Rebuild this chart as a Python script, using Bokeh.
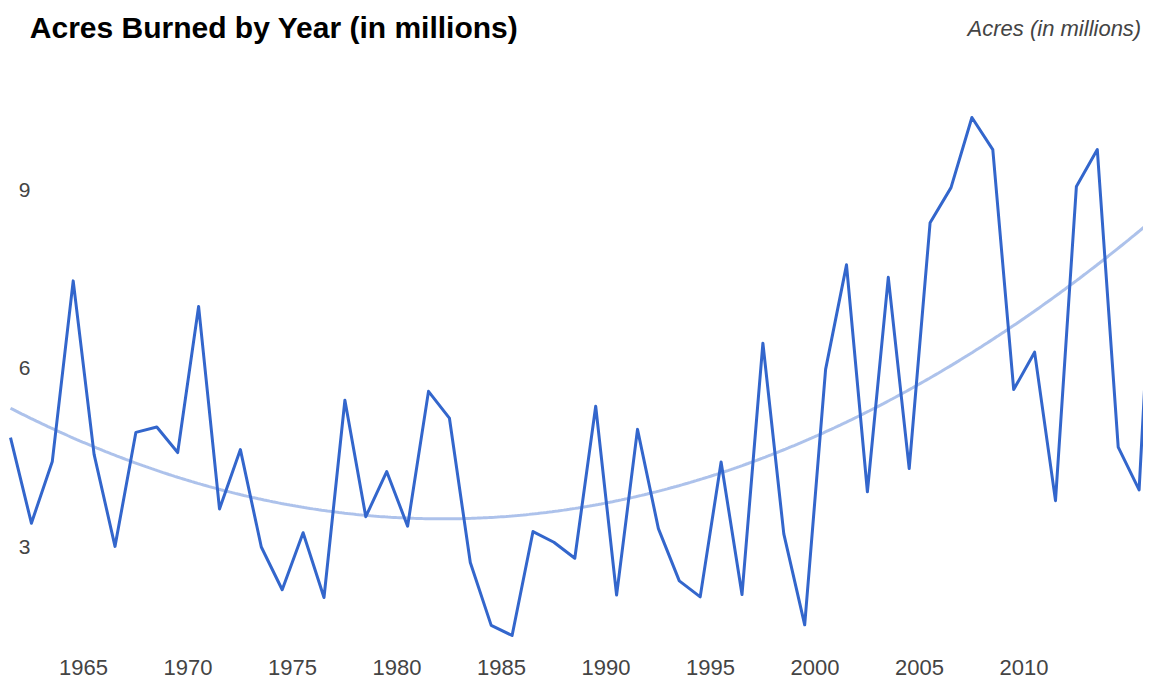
import numpy as np
from bokeh.plotting import figure
from bokeh.models import Range1d
from bokeh.core.properties import value
from bokeh.embed import file_html
from bokeh.resources import INLINE

# ---------------- data ----------------
years = list(range(1960, 2016))
acres = [4.48, 3.04, 4.08, 7.12, 4.20, 2.65, 4.57, 4.66, 4.23, 6.69,
         3.28, 4.28, 2.64, 1.92, 2.88, 1.79, 5.11, 3.15, 3.91, 2.99,
         5.26, 4.81, 2.38, 1.32, 1.15, 2.90, 2.72, 2.45, 5.01, 1.83,
         4.62, 2.95, 2.07, 1.80, 4.07, 1.84, 6.07, 2.86, 1.33, 5.63,
         7.39, 3.57, 7.18, 3.96, 8.10, 8.69, 9.87, 9.33, 5.29, 5.92,
         3.42, 8.71, 9.33, 4.32, 3.60, 10.13]
x_ticks = [1965, 1970, 1975, 1980, 1985, 1990, 1995, 2000, 2005, 2010]
y_ticks = [3, 6, 9]
title_text = "Acres Burned by Year (in millions)"
axis_title = "Acres (in millions)"

# ---------------- layout ----------------
W, H = 1143, 682
PX_YEAR = 20.9          # pixels per year
PX_UNIT = 59.4          # pixels per million acres
ZERO_Y = 703.3          # pixel row of value 0 (from top)
x0 = years[0] - 10 / PX_YEAR
x1 = x0 + W / PX_YEAR
y1 = ZERO_Y / PX_UNIT
y0 = y1 - H / PX_UNIT

p = figure(width=W, height=H, output_backend="svg", toolbar_location=None,
           x_axis_type=None, y_axis_type=None,
           x_range=Range1d(x0, x1), y_range=Range1d(y0, y1),
           min_border=0, min_border_left=0, min_border_right=0,
           min_border_top=0, min_border_bottom=0)
p.outline_line_color = None
p.background_fill_color = "white"
p.border_fill_color = "white"

# polynomial (degree 2) trendline: least-squares fit of the series
xc = np.array(years, dtype=float) - 1987.5
coef = np.polyfit(xc, np.array(acres), 2)
tx = np.linspace(years[0], years[-1], 400)
ty = np.polyval(coef, tx - 1987.5)
p.line(tx, ty, line_color="#3366cc", line_alpha=0.4, line_width=3)

p.line(years, acres, line_color="#3366cc", line_width=3, line_join="round")

FONT = value("Liberation Sans")

# y tick labels (inside the plot, left)
p.text(x=[x0] * len(y_ticks), y=y_ticks, text=[str(t) for t in y_ticks],
       x_offset=18.3, y_offset=21, text_align="left", text_baseline="alphabetic",
       text_font=FONT, text_font_size="21px", text_color="#444444")

# x tick labels (right-aligned to ticks)
p.text(x=x_ticks, y=[y0] * len(x_ticks), text=[str(t) for t in x_ticks],
       x_offset=-7, y_offset=-15, text_align="right", text_baseline="alphabetic",
       text_font=FONT, text_font_size="22px", text_color="#444444")

# title
p.text(x=[x0], y=[y1], text=[title_text], x_offset=29.3, y_offset=27.3,
       text_align="left", text_baseline="alphabetic", text_font=FONT,
       text_font_size="30px", text_font_style="bold", text_color="#000000")

# axis title (top right, italic)
p.text(x=[x1], y=[y1], text=[axis_title], x_offset=-2.3, y_offset=27.7,
       text_align="right", text_baseline="alphabetic", text_font=FONT,
       text_font_size="22px", text_font_style="italic", text_color="#444444")

open("out.html", "w").write(file_html(p, INLINE))
